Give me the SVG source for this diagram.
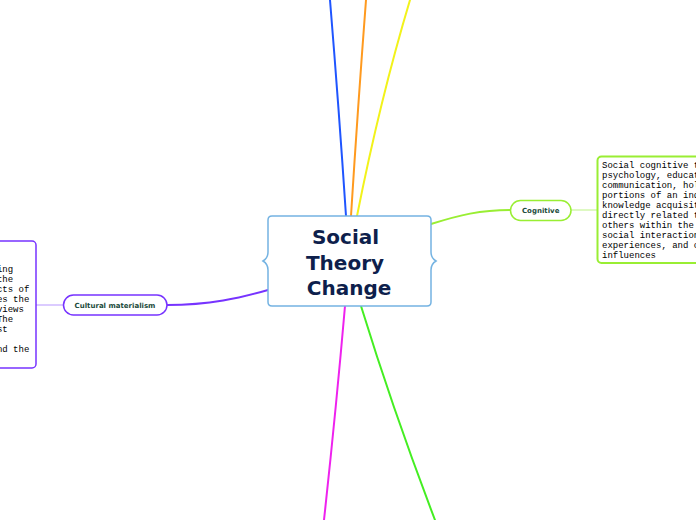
<svg xmlns="http://www.w3.org/2000/svg" width="696" height="520" viewBox="0 0 696 520">
<style>
.edge{fill:none;stroke-width:2;stroke-linecap:round}
.thin{fill:none;stroke-width:1.2}
.pill{fill:#ffffff;stroke-width:1.5}
.lbl{font-family:"DejaVu Sans",Verdana,sans-serif;font-weight:bold;font-size:7px;fill:#1b4b3b;text-anchor:middle}
.mono{font-family:"Liberation Mono","Courier New",monospace;font-size:9px;fill:#000000}
.title{font-family:"DejaVu Sans",Verdana,sans-serif;font-weight:bold;font-size:20px;fill:#0e1f4c;text-anchor:middle}
</style>
<rect width="696" height="520" fill="#ffffff"/>
<g id="connectors">
<path class="edge" stroke="#1f55ff" d="M346,216 Q339,110 330,0"/>
<path class="edge" stroke="#ff9a1f" d="M351,216 Q358,105 366,0"/>
<path class="edge" stroke="#f2f21a" d="M357,216 Q380,100 410,0"/>
<path class="edge" stroke="#ee22ee" d="M345,306 Q336,410 324,520"/>
<path class="edge" stroke="#44ee22" d="M361,306 Q393,410 435,520"/>
<path class="edge" stroke="#7733ff" d="M167,305 C210,305 240,298 268,290"/>
<path class="edge" stroke="#99ee33" d="M431,224 C460,215 480,210 510,210"/>
<path class="thin" stroke="#c4a8ff" d="M36,305 H63"/>
<path class="thin" stroke="#c8f59a" d="M571,210 H597"/>
</g>
<g id="central">
<path fill="#ffffff" stroke="#74b3e2" stroke-width="1.5" d="M272,216 H427 Q431,216 431,220 V252 Q431,258 436,261 Q431,264 431,270 V302 Q431,306 427,306 H272 Q268,306 268,302 V270 Q268,264 263,261 Q268,258 268,252 V220 Q268,216 272,216 Z"/>
<text class="title" x="345.5" y="244">Social</text>
<text class="title" x="345" y="269.5">Theory</text>
<text class="title" x="349" y="295">Change</text>
</g>
<g id="cultural">
<rect class="pill" stroke="#7733ff" x="63.5" y="295" width="103.5" height="20" rx="10"/>
<text class="lbl" x="115" y="307.5">Cultural materialism</text>
</g>
<g id="cultural-note">
<rect fill="#ffffff" stroke="#7733ff" stroke-width="1.5" x="-10" y="241" width="46" height="127" rx="4"/>
<text class="mono" text-anchor="end" x="13.1" y="272">ing</text>
<text class="mono" text-anchor="end" x="13.1" y="282">the</text>
<text class="mono" text-anchor="end" x="29.3" y="292">cts of</text>
<text class="mono" text-anchor="end" x="29.3" y="302">es the</text>
<text class="mono" text-anchor="end" x="23.9" y="312">views</text>
<text class="mono" text-anchor="end" x="13.1" y="322">The</text>
<text class="mono" text-anchor="end" x="7.7" y="332">st</text>
<text class="mono" text-anchor="end" x="29.3" y="352">nd the</text>
</g>
<g id="cognitive">
<rect class="pill" stroke="#99ee33" x="510.5" y="200.5" width="60.5" height="20" rx="10"/>
<text class="lbl" x="540.7" y="213">Cognitive</text>
</g>
<g id="cognitive-note">
<rect fill="#ffffff" stroke="#99ee33" stroke-width="2" x="597.5" y="156.5" width="120" height="106.5" rx="4"/>
<text class="mono" x="602" y="168">Social cognitive t</text>
<text class="mono" x="602" y="178">psychology, educat</text>
<text class="mono" x="602" y="188">communication, hol</text>
<text class="mono" x="602" y="198">portions of an ind</text>
<text class="mono" x="602" y="208">knowledge acquisit</text>
<text class="mono" x="602" y="218">directly related t</text>
<text class="mono" x="602" y="228">others within the</text>
<text class="mono" x="602" y="238">social interaction</text>
<text class="mono" x="602" y="248">experiences, and o</text>
<text class="mono" x="602" y="258">influences</text>
</g>
</svg>
